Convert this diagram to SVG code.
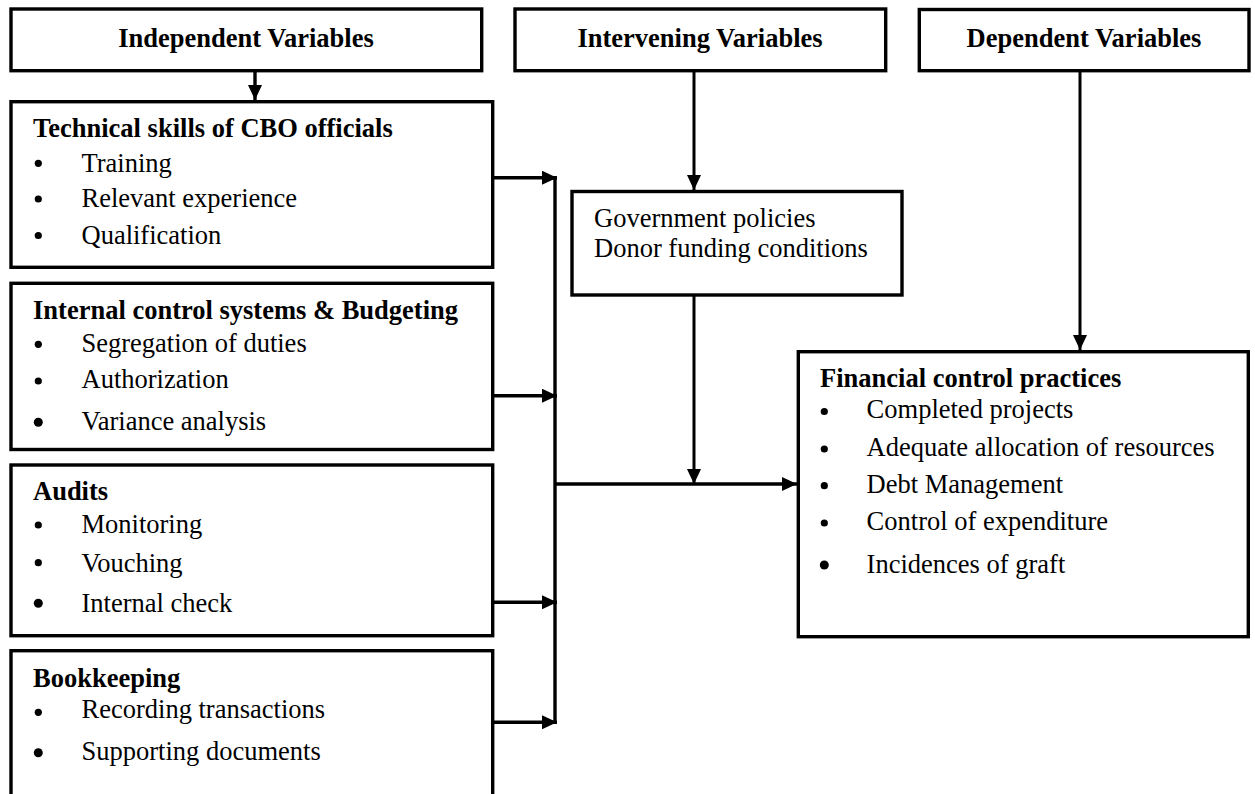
<svg xmlns="http://www.w3.org/2000/svg" width="1255" height="794" viewBox="0 0 1255 794">
<style>
.box{fill:#fff;stroke:#000;stroke-width:3.4}
.t{font-family:"Liberation Serif","Times New Roman",serif;font-size:26.5px;fill:#000}
.b{font-weight:bold}
.c{stroke:#000;stroke-width:3.4;fill:none}
.c2{stroke:#000;stroke-width:3;fill:none}
.dot{fill:#000}
</style>
<defs>
<marker id="ah" markerUnits="userSpaceOnUse" viewBox="0 0 15 14" refX="15" refY="7" markerWidth="15" markerHeight="14" orient="auto">
<path d="M0,0 L15,7 L0,14 z" fill="#000"/>
</marker>
</defs>
<rect width="1255" height="794" fill="#fff"/>

<g id="independent">
<rect class="box" x="11" y="9" width="470.7" height="61.7"/>
<text class="t b" x="246" y="46.5" text-anchor="middle">Independent Variables</text>
</g>
<g id="intervening">
<rect class="box" x="515" y="9" width="370.7" height="61.7"/>
<text class="t b" x="700" y="46.5" text-anchor="middle">Intervening Variables</text>
</g>
<g id="dependent">
<rect class="box" x="919.3" y="9.5" width="329.7" height="61.2"/>
<text class="t b" x="1084" y="46.5" text-anchor="middle">Dependent Variables</text>
</g>

<g id="technical">
<rect class="box" x="11" y="101.7" width="481.7" height="165.6"/>
<text class="t b" x="33" y="137.3">Technical skills of CBO officials</text>
<circle class="dot" cx="38.3" cy="163.3" r="3.6"/>
<circle class="dot" cx="38.3" cy="199" r="3.6"/>
<circle class="dot" cx="38.3" cy="235.5" r="3.6"/>
<text class="t" x="81.5" y="171.7">Training</text>
<text class="t" x="81.5" y="206.7">Relevant experience</text>
<text class="t" x="81.5" y="244">Qualification</text>
</g>

<g id="internal">
<rect class="box" x="11" y="283.3" width="481.7" height="166.2"/>
<text class="t b" x="33" y="318.5">Internal control systems &amp; Budgeting</text>
<circle class="dot" cx="38.3" cy="344.3" r="3.6"/>
<circle class="dot" cx="38.3" cy="381" r="3.6"/>
<circle class="dot" cx="38.3" cy="422.3" r="4.5"/>
<text class="t" x="81.5" y="351.7">Segregation of duties</text>
<text class="t" x="81.5" y="388.3">Authorization</text>
<text class="t" x="81.5" y="430">Variance analysis</text>
</g>

<g id="audits">
<rect class="box" x="11" y="465" width="481.7" height="170.7"/>
<text class="t b" x="33" y="500">Audits</text>
<circle class="dot" cx="38.3" cy="525" r="3.6"/>
<circle class="dot" cx="38.3" cy="562.7" r="3.6"/>
<circle class="dot" cx="38.3" cy="603.3" r="4.5"/>
<text class="t" x="81.5" y="533">Monitoring</text>
<text class="t" x="81.5" y="571.5">Vouching</text>
<text class="t" x="81.5" y="611.7">Internal check</text>
</g>

<g id="bookkeeping">
<rect class="box" x="11" y="650.7" width="481.7" height="160"/>
<text class="t b" x="33" y="686.7">Bookkeeping</text>
<circle class="dot" cx="38.3" cy="712.3" r="3.6"/>
<circle class="dot" cx="38.3" cy="752.7" r="4.5"/>
<text class="t" x="81.5" y="718.3">Recording transactions</text>
<text class="t" x="81.5" y="760">Supporting documents</text>
</g>

<g id="government">
<rect class="box" x="572" y="191.5" width="330" height="103.5"/>
<text class="t" x="594" y="226.7">Government policies</text>
<text class="t" x="594" y="256.7">Donor funding conditions</text>
</g>

<g id="financial">
<rect class="box" x="798.3" y="351.7" width="450" height="285"/>
<text class="t b" x="820" y="386.7">Financial control practices</text>
<circle class="dot" cx="824.3" cy="411.5" r="3.6"/>
<circle class="dot" cx="824.3" cy="449" r="3.6"/>
<circle class="dot" cx="824.3" cy="485.7" r="3.6"/>
<circle class="dot" cx="824.3" cy="523" r="3.6"/>
<circle class="dot" cx="824.3" cy="565" r="4.5"/>
<text class="t" x="866.6" y="418.3">Completed projects</text>
<text class="t" x="866.6" y="456">Adequate allocation of resources</text>
<text class="t" x="866.6" y="493.3">Debt Management</text>
<text class="t" x="866.6" y="530">Control of expenditure</text>
<text class="t" x="866.6" y="573.3">Incidences of graft</text>
</g>

<g id="connectors">
<line class="c" x1="255" y1="70.7" x2="255" y2="100" marker-end="url(#ah)"/>
<line class="c" x1="492.7" y1="177.7" x2="557" y2="177.7" marker-end="url(#ah)"/>
<line class="c" x1="492.7" y1="395.7" x2="557" y2="395.7" marker-end="url(#ah)"/>
<line class="c" x1="492.7" y1="602.3" x2="557" y2="602.3" marker-end="url(#ah)"/>
<line class="c" x1="492.7" y1="722.3" x2="557" y2="722.3" marker-end="url(#ah)"/>
<line class="c" x1="555" y1="176" x2="555" y2="724"/>
<line class="c" x1="555" y1="484" x2="797" y2="484" marker-end="url(#ah)"/>
<line class="c2" x1="694" y1="70.7" x2="694" y2="190" marker-end="url(#ah)"/>
<line class="c2" x1="694" y1="295" x2="694" y2="484" marker-end="url(#ah)"/>
<line class="c2" x1="1080" y1="70.7" x2="1080" y2="350" marker-end="url(#ah)"/>
</g>
</svg>
